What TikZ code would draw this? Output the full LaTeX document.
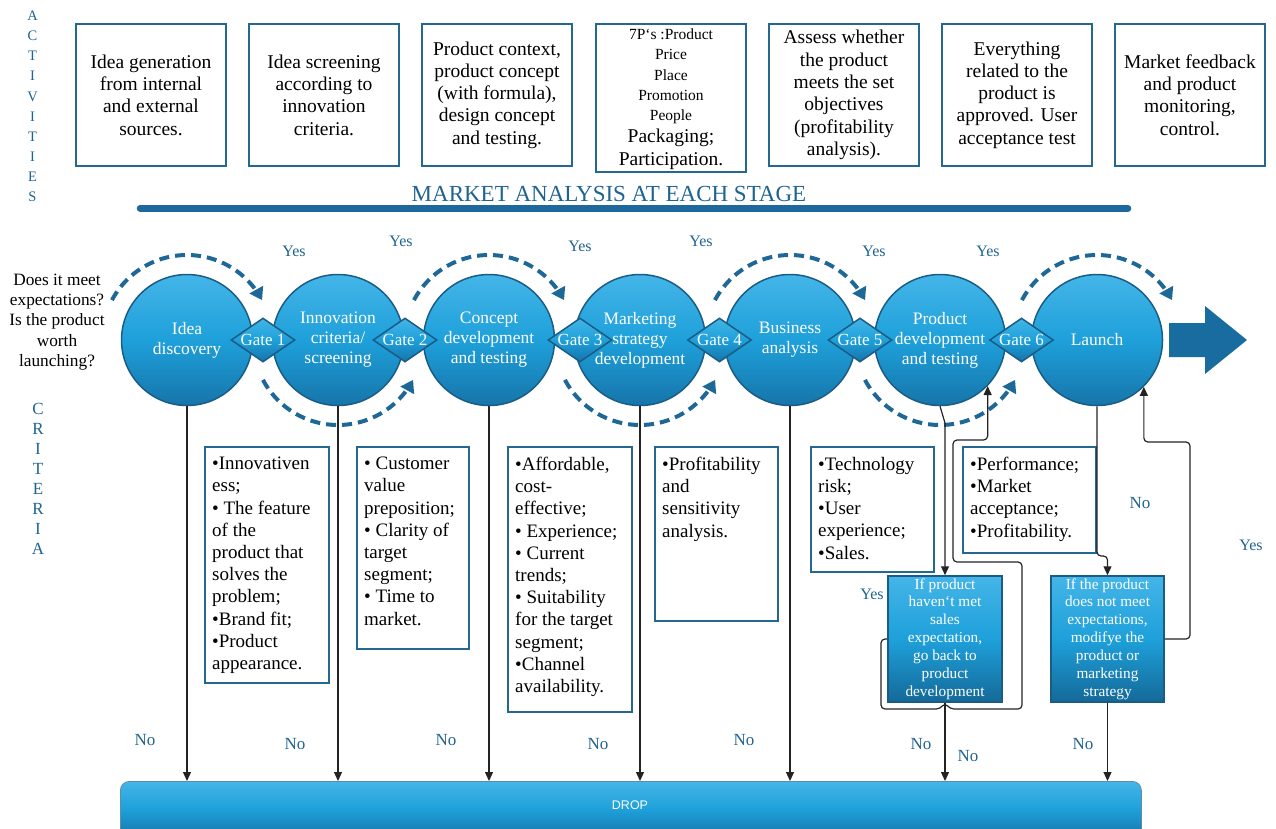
\documentclass[tikz,border=0pt]{standalone}
\usepackage{fontspec}
\setmainfont{Liberation Serif}
\newfontfamily\dropfont{Liberation Sans}
\usetikzlibrary{shapes.geometric,arrows.meta,calc}
\definecolor{bluetext}{RGB}{31,99,145}
\definecolor{boxline}{RGB}{36,104,146}
\definecolor{arcblue}{RGB}{29,104,150}
\definecolor{barblue}{RGB}{30,104,158}
\definecolor{ctop}{RGB}{68,181,232}
\definecolor{cmid}{RGB}{30,160,218}
\definecolor{cbot}{RGB}{22,117,170}
\definecolor{cedge}{RGB}{27,92,132}
\definecolor{bigarrow}{RGB}{24,108,160}
\definecolor{linegray}{RGB}{35,35,35}
\tikzset{
  actbox/.style={draw=boxline, line width=2pt, minimum width=150pt, minimum height=142pt, inner sep=2pt, align=center, font=\fontsize{19.5}{22.3}\selectfont},
  critbox/.style={draw=boxline, line width=2pt, anchor=north west, inner sep=0pt},
  crittext/.style={anchor=north west, align=left, inner xsep=8pt, inner ysep=11pt, font=\fontsize{19}{22.2}\selectfont},
  stage/.style={circle, draw=cedge, line width=1.5pt, top color=ctop, bottom color=cbot, middle color=cmid, minimum size=131pt, inner sep=0pt, text=white, align=center, font=\fontsize{17.5}{20}\selectfont},
  gate/.style={diamond, draw=cedge, line width=1.5pt, top color=ctop, bottom color=cbot, middle color=cmid, minimum width=64pt, minimum height=44pt, inner sep=0pt},
  gatetext/.style={text=white, font=\fontsize{17}{19}\selectfont, inner sep=0pt},
  darkbox/.style={draw=cedge, line width=1.5pt, top color=ctop, bottom color=cbot!90!black, middle color=cmid, minimum width=114pt, minimum height=126pt, inner sep=1pt, text=white, align=center, font=\fontsize{15.3}{17.9}\selectfont},
  yeslbl/.style={text=bluetext, font=\fontsize{16}{18}\selectfont, inner sep=0pt},
  nolbl/.style={text=bluetext, font=\fontsize{17}{19}\selectfont, inner sep=0pt},
  dasharc/.style={draw=arcblue, line width=4pt, dash pattern=on 10pt off 6pt, -{Triangle[length=12pt,width=15pt]}},
  conn/.style={draw=linegray, line width=1.2pt},
  arr/.style={conn, -{Triangle[length=9pt,width=8pt]}},
}
\begin{document}
\begin{tikzpicture}[x=1pt, y=-1pt]
\path[use as bounding box] (0,0) rectangle (1276,828);
\clip (0,0) rectangle (1276,828);

% side titles
\node[font=\fontsize{14.5}{20.15}\selectfont, text=bluetext, align=center, inner sep=0pt] (act) at (32.5,106.5) {A\\C\\T\\I\\V\\I\\T\\I\\E\\S};
\node[font=\fontsize{17}{20.1}\selectfont, text=bluetext, align=center, inner sep=0pt] (crit) at (38,479) {C\\R\\I\\T\\E\\R\\I\\A};

% activity boxes
\node[actbox] (a1) at (151,95) {Idea generation\\from internal\\and external\\sources.};
\node[actbox] (a2) at (324,95) {Idea screening\\according to\\innovation\\criteria.};
\node[actbox] (a3) at (497,95) {Product context,\\product concept\\(with formula),\\design concept\\and testing.};
\node[actbox, minimum height=148pt] (a4) at (671,98) {};
\node[font=\fontsize{15.5}{20.35}\selectfont, align=center, inner sep=0pt] (a4t) at (671,76.4) {7P‘s :Product\\Price\\Place\\Promotion\\People};
\node[font=\fontsize{19.5}{22.6}\selectfont, align=center, inner sep=0pt] (a4b) at (671,149.5) {Packaging;\\Participation.};
\node[actbox] (a5) at (844,95) {Assess whether\\the product\\meets the set\\objectives\\(profitability\\analysis).};
\node[actbox] (a6) at (1017,95) {Everything\\related to the\\product is\\approved. User\\acceptance test};
\node[actbox] (a7) at (1190,95) {Market feedback\\and product\\monitoring,\\control.};

% market analysis
\node[text=bluetext, font=\fontsize{23}{26}\selectfont, anchor=base, inner sep=0pt] (mkt) at (609,201.5) {MARKET ANALYSIS AT EACH STAGE};
\coordinate (barL) at (140,208.3);
\coordinate (barR) at (1128,208.3);
\draw[barblue, line width=6.5pt, line cap=round] (barL) -- (barR);

% question
\node[align=center, font=\fontsize{17.3}{20.2}\selectfont, inner sep=0pt] (q) at (57,322) {Does it meet\\expectations?\\Is the product\\worth\\launching?};

% drop bar
\node[anchor=north west, rounded corners=9pt, minimum width=1021pt, minimum height=56pt, top color=ctop, bottom color=cbot, middle color=cmid, draw=cedge!70, line width=0.8pt] (drop) at (120,781) {};
\node[text=white, font=\dropfont\fontsize{12.5}{14}\selectfont] (droptxt) at (630,805) {DROP};

% criteria boxes
\node[critbox, minimum width=124pt, minimum height=236pt] (k1) at (204,446) {};
\node[crittext] (k1t) at (k1.north west) {•Innovativen\\ess;\\• The feature\\of the\\product that\\solves the\\problem;\\•Brand fit;\\•Product\\appearance.};
\node[critbox, minimum width=112pt, minimum height=202pt] (k2) at (356,446) {};
\node[crittext] (k2t) at (k2.north west) {• Customer\\value\\preposition;\\• Clarity of\\target\\segment;\\• Time to\\market.};
\node[critbox, minimum width=124pt, minimum height=265pt] (k3) at (507,446) {};
\node[crittext] (k3t) at (k3.north west) {•Affordable,\\cost-\\effective;\\• Experience;\\• Current\\trends;\\• Suitability\\for the target\\segment;\\•Channel\\availability.};
\node[critbox, minimum width=123pt, minimum height=174pt] (k4) at (654,446) {};
\node[crittext] (k4t) at (k4.north west) {•Profitability\\and\\sensitivity\\analysis.};
\node[critbox, minimum width=123pt, minimum height=125pt] (k5) at (810,446) {};
\node[crittext] (k5t) at (k5.north west) {•Technology\\risk;\\•User\\experience;\\•Sales.};
\node[critbox, minimum width=133pt, minimum height=106pt] (k6) at (962,446) {};
\node[crittext] (k6t) at (k6.north west) {•Performance;\\•Market\\acceptance;\\•Profitability.};

% dashed arcs
\draw[dasharc] plot[domain=208:332, samples=60] ({187+85*cos(\x)}, {340+85*sin(\x)});
\draw[dasharc] plot[domain=208:332, samples=60] ({489+85*cos(\x)}, {340+85*sin(\x)});
\draw[dasharc] plot[domain=208:332, samples=60] ({790+85*cos(\x)}, {340+85*sin(\x)});
\draw[dasharc] plot[domain=208:332, samples=60] ({1097+85*cos(\x)}, {340+85*sin(\x)});
\draw[dasharc] plot[domain=0:124, samples=60] ({338+85*cos(152-\x)}, {340+85*sin(152-\x)});
\draw[dasharc] plot[domain=0:124, samples=60] ({640+85*cos(152-\x)}, {340+85*sin(152-\x)});
\draw[dasharc] plot[domain=0:124, samples=60] ({940+85*cos(152-\x)}, {340+85*sin(152-\x)});

% stages
\node[stage] (s1) at (187,340) {Idea\\discovery};
\node[stage] (s2) at (338,340) {Innovation\\criteria/\\screening};
\node[stage] (s3) at (489,340) {Concept\\development\\and testing};
\node[stage] (s4) at (640,340) {Marketing\\strategy\\development};
\node[stage] (s5) at (790,340) {Business\\analysis};
\node[stage] (s6) at (940,340) {Product\\development\\and testing};
\node[stage] (s7) at (1097,340) {Launch};

% gates
\foreach \gx/\gn in {263/1, 405/2, 580/3, 719.5/4, 860/5, 1021.5/6}{
  \node[gate] (g\gn) at (\gx,340) {};
  \node[gatetext] (gt\gn) at (g\gn) {Gate \gn};
}

% big arrow
\fill[bigarrow] (1169,323) -- (1205,323) -- (1205,306) -- (1247,340) -- (1205,374) -- (1205,357) -- (1169,357) -- cycle;

% decision boxes
\node[darkbox] (d1) at (945,639) {If product\\haven‘t met\\sales\\expectation,\\go back to\\product\\development};
\node[darkbox, minimum width=113pt] (d2) at (1107.5,639) {If the product\\does not meet\\expectations,\\modifye the\\product or\\marketing\\strategy};

% drop connectors
\draw[arr] (s1.south) -- (s1.south |- drop.north);
\draw[arr] (s2.south) -- (s2.south |- drop.north);
\draw[arr] (s3.south) -- (s3.south |- drop.north);
\draw[arr] (s4.south) -- (s4.south |- drop.north);
\draw[arr] (s5.south) -- (s5.south |- drop.north);
\coordinate (pd1) at (945,423);
\draw[arr] (s6.south) -- (pd1) -- (d1.north);
\draw[arr] (d1.south) -- (d1.south |- drop.north);
\coordinate (ln1) at (1097,556);
\coordinate (ln2) at (1107.5,556);
\draw[arr, rounded corners=4pt] (s7.south) -- (ln1) -- (ln2) -- (d2.north);
\draw[arr] (d2.south) -- (d2.south |- drop.north);

% loop back connectors
\coordinate (lp1) at (881,639);
\coordinate (lp2) at (881,709);
\coordinate (lp3) at (940,709);
\coordinate (lp4) at (950,709);
\coordinate (lp5) at (1022,709);
\coordinate (lp6) at (1022,562);
\coordinate (lp7) at (953,562);
\coordinate (lp8) at (953,440);
\coordinate (lph) at (0,440);
\draw[arr, rounded corners=4pt] (d1.west) -- (lp1) -- (lp2) -- (lp3) -- (d1.south) -- (lp4) -- (lp5) -- (lp6) -- (lp7) -- (lp8) -- (s6.-44 |- lph) -- (s6.-44);
\coordinate (lq1) at (1190,639);
\coordinate (lq2) at (1190,442);
\coordinate (lqh) at (0,442);
\draw[arr, rounded corners=4pt] (d2.east) -- (lq1) -- (lq2) -- (s7.-45 |- lqh) -- (s7.-45);

% labels
\node[yeslbl] (y1) at (294,251) {Yes};
\node[yeslbl] (y2) at (401,241) {Yes};
\node[yeslbl] (y3) at (580,246) {Yes};
\node[yeslbl] (y4) at (701,241) {Yes};
\node[yeslbl] (y5) at (874,251) {Yes};
\node[yeslbl] (y6) at (988,251) {Yes};
\node[yeslbl] (y7) at (872,594) {Yes};
\node[yeslbl] (y8) at (1251,545) {Yes};
\node[nolbl] (n1) at (145,740) {No};
\node[nolbl] (n2) at (295,744) {No};
\node[nolbl] (n3) at (446,740) {No};
\node[nolbl] (n4) at (598,744) {No};
\node[nolbl] (n5) at (744,740) {No};
\node[nolbl] (n6) at (921,744) {No};
\node[nolbl] (n7) at (968,756) {No};
\node[nolbl] (n8) at (1083,744) {No};
\node[nolbl] (n9) at (1140,503) {No};
\end{tikzpicture}
\end{document}
